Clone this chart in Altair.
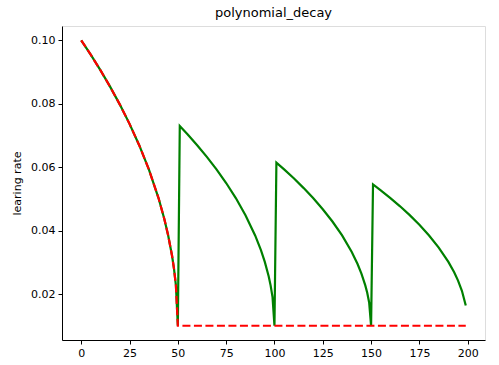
import altair as alt
import pandas as pd

# cycle=True series (green)
green_steps = [0, 5, 10, 15, 20, 25, 30, 35, 40, 43, 45, 47, 48, 49, 50,
               51, 55, 60, 65, 70, 75, 80, 85, 90, 93, 95, 97, 98, 99, 100,
               101, 105, 110, 115, 120, 125, 130, 135, 140, 143, 145, 147, 148, 149, 150,
               151, 155, 160, 165, 170, 175, 180, 185, 190, 193, 195, 197, 199]
green_vals = [0.1, 0.09538, 0.0905, 0.0853, 0.07971, 0.07364, 0.06692, 0.05929, 0.05025, 0.04367, 0.03846, 0.03205, 0.028, 0.02273, 0.01,
              0.073, 0.07037, 0.06692, 0.06324, 0.05929, 0.055, 0.05025, 0.04486, 0.03846, 0.03381, 0.03012, 0.02559, 0.02273, 0.019, 0.01,
              0.06144, 0.05929, 0.05648, 0.05347, 0.05025, 0.04674, 0.04286, 0.03846, 0.03324, 0.02944, 0.02643, 0.02273, 0.02039, 0.01735, 0.01,
              0.05455, 0.05269, 0.05025, 0.04765, 0.04486, 0.04182, 0.03846, 0.03465, 0.03012, 0.02684, 0.02423, 0.02102, 0.01636]

# cycle=False series (red dashed)
red_steps = [0, 5, 10, 15, 20, 25, 30, 35, 40, 43, 45, 47, 48, 49, 50, 199]
red_vals = [0.1, 0.09538, 0.0905, 0.0853, 0.07971, 0.07364, 0.06692, 0.05929, 0.05025, 0.04367, 0.03846, 0.03205, 0.028, 0.02273, 0.01, 0.01]

x_ticks = [0, 25, 50, 75, 100, 125, 150, 175, 200]
y_ticks = [0.02, 0.04, 0.06, 0.08, 0.10]

green_df = pd.DataFrame({"step": green_steps, "lr": green_vals})
red_df = pd.DataFrame({"step": red_steps, "lr": red_vals})

FONT = "DejaVu Sans"

x_enc = alt.X("step:Q",
              scale=alt.Scale(domain=[-9.95, 208.95], nice=False, zero=False),
              axis=alt.Axis(values=x_ticks, format="d", title=None, grid=False,
                            tickColor="black", domainColor="black", labelColor="black",
                            tickSize=4, labelPadding=3, labelFontSize=11, labelFont=FONT,
                            labelFlush=False))
y_enc = alt.Y("lr:Q",
              scale=alt.Scale(domain=[0.0055, 0.1045], nice=False, zero=False),
              axis=alt.Axis(values=y_ticks, format=".2f", title="learing rate", grid=False,
                            tickColor="black", domainColor="black", labelColor="black",
                            tickSize=4, labelPadding=3, labelFontSize=11, labelFont=FONT,
                            titleFont=FONT, titleFontSize=11, titleFontWeight="normal",
                            titleColor="black", titlePadding=8, labelFlush=False))

green = alt.Chart(green_df).mark_line(color="#008000", strokeWidth=2.2, clip=True).encode(
    x=x_enc, y=y_enc)
red = alt.Chart(red_df).mark_line(color="#ff0000", strokeWidth=2.2, strokeDash=[8, 3.5],
                                   strokeCap="butt", clip=True).encode(x=x_enc, y=y_enc)

chart = alt.layer(green, red).properties(
    width=423, height=314,
    title=alt.TitleParams("polynomial_decay", font=FONT, fontSize=13, fontWeight="normal",
                          color="black", anchor="middle", offset=6),
    autosize=alt.AutoSizeParams(type="none"),
    padding={"left": 62, "top": 26, "right": 14, "bottom": 25},
).configure_view(stroke="black", strokeWidth=1).configure(background="white")

chart.save("out.html", embed_options={"renderer": "svg", "actions": False})
